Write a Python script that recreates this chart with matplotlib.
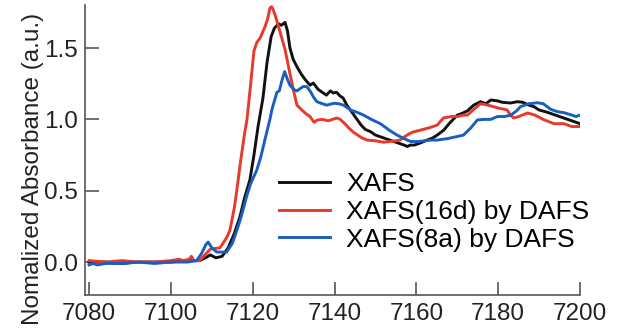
import matplotlib
matplotlib.use("Agg")
import matplotlib.pyplot as plt
from matplotlib import font_manager

# energies (eV) and normalized absorbance
e_xafs = [7080, 7084, 7088, 7092, 7096, 7100, 7104, 7107, 7108.5, 7109.6, 7111, 7112.5,
          7114, 7115.5, 7116.9, 7118, 7119.3, 7120.3, 7121.3, 7122.5, 7123.5, 7124.5,
          7125.3, 7126.3, 7127.0, 7127.9, 7128.5, 7129.1, 7129.9, 7130.8, 7131.8, 7132.8,
          7134.0, 7134.8, 7136.0, 7137.0, 7138.0, 7139.0, 7139.7, 7140.5, 7141.3, 7142.1,
          7143.0, 7144.0, 7145.5, 7146.5, 7147.5, 7148.8, 7150.0, 7151.0, 7152.0, 7153.0,
          7154.0, 7155.0, 7156.0, 7157.0, 7157.8, 7158.5, 7159.5, 7161.0, 7162.6, 7164.0,
          7165.1, 7166.7, 7168.0, 7169.0, 7170.0, 7171.0, 7172.5, 7174.0, 7175.7, 7177.0,
          7178.2, 7179.8, 7181.0, 7183.0, 7184.7, 7186.0, 7187.5, 7188.7, 7190.0, 7192.0,
          7194.0, 7196.0, 7198.0, 7200.0]
a_xafs = [0.00, 0.00, -0.01, 0.00, 0.00, 0.00, 0.01, 0.01, 0.03, 0.05, 0.03, 0.04,
          0.10, 0.20, 0.32, 0.45, 0.575, 0.75, 0.95, 1.15, 1.40, 1.58,
          1.64, 1.67, 1.66, 1.68, 1.62, 1.50, 1.42, 1.37, 1.32, 1.28,
          1.24, 1.255, 1.21, 1.19, 1.17, 1.20, 1.185, 1.19, 1.165, 1.15,
          1.10, 1.06, 1.00, 0.96, 0.93, 0.914, 0.89, 0.88, 0.87, 0.86,
          0.85, 0.84, 0.83, 0.82, 0.81, 0.82, 0.82, 0.835, 0.855, 0.87,
          0.89, 0.925, 0.97, 1.00, 1.03, 1.04, 1.06, 1.10, 1.124, 1.11,
          1.136, 1.13, 1.12, 1.115, 1.124, 1.12, 1.10, 1.09, 1.066, 1.05,
          1.03, 1.01, 0.99, 0.97]

e_16d = [7080, 7084, 7088, 7092, 7096, 7100, 7102, 7103, 7104.5, 7105, 7105.6, 7107,
         7108, 7109.6, 7112, 7113.6, 7114.4, 7115.5, 7116.1, 7117.0, 7118.0, 7118.6,
         7119.5, 7120.3, 7121.0, 7121.8, 7123.0, 7123.6, 7124.2, 7124.6, 7125.0, 7125.6,
         7126.3, 7127.1, 7127.9, 7129.1, 7130.0, 7130.8, 7132.0, 7133.0, 7134.0, 7135.0,
         7135.8, 7137.0, 7138.5, 7139.5, 7140.5, 7141.4, 7142.5, 7143.5, 7144.6, 7146.7,
         7148.0, 7150.0, 7152.0, 7153.6, 7155.0, 7156.0, 7157.7, 7159.0, 7161.0, 7163.0,
         7165.1, 7166.6, 7168.5, 7170.0, 7171.5, 7172.5, 7174.0, 7175.7, 7177.5, 7180.0,
         7182.2, 7183.0, 7183.8, 7185.0, 7187.2, 7189.0, 7191.0, 7193.6, 7196.0, 7198.0,
         7200.0]
a_16d = [0.01, 0.00, 0.01, 0.00, 0.00, 0.01, 0.02, 0.01, 0.02, 0.04, 0.01, 0.01,
         0.04, 0.09, 0.10, 0.17, 0.22, 0.38, 0.50, 0.70, 0.90, 1.00,
         1.25, 1.48, 1.54, 1.57, 1.65, 1.70, 1.78, 1.79, 1.77, 1.72,
         1.65, 1.57, 1.49, 1.32, 1.20, 1.10, 1.066, 1.04, 1.02, 0.98,
         0.996, 1.00, 0.99, 1.00, 1.01, 1.00, 0.97, 0.94, 0.91, 0.87,
         0.855, 0.85, 0.84, 0.845, 0.85, 0.855, 0.89, 0.91, 0.925, 0.94,
         0.96, 1.01, 1.02, 1.02, 1.03, 1.03, 1.07, 1.11, 1.10, 1.08,
         1.066, 1.03, 1.01, 1.02, 1.045, 1.03, 1.00, 0.97, 0.97, 0.95,
         0.95]

e_8a = [7080, 7081, 7082, 7084, 7088, 7092, 7096, 7100, 7104, 7106.3, 7107.5, 7108.5,
        7109.1, 7110.0, 7111.2, 7113.6, 7115.0, 7116.1, 7117.3, 7118.5, 7119.5, 7121.0,
        7122.0, 7123.0, 7124.2, 7124.7, 7125.9, 7126.5, 7127.2, 7127.8, 7128.5, 7129.1,
        7130.0, 7130.8, 7132.3, 7133.2, 7134.0, 7135.0, 7135.7, 7137.0, 7138.1, 7139.8,
        7141.0, 7142.2, 7143.9, 7145.5, 7147.1, 7149.0, 7151.2, 7153.6, 7155.3, 7157.0,
        7158.6, 7160.5, 7163.5, 7165.1, 7167.5, 7170.0, 7171.5, 7173.3, 7174.9, 7176.5,
        7178.2, 7179.8, 7181.5, 7183.1, 7184.5, 7185.5, 7187.5, 7189.6, 7191.0, 7192.9,
        7194.5, 7196.1, 7198.0, 7199.0, 7200.0]
a_8a = [-0.02, -0.01, -0.02, -0.01, -0.01, 0.00, -0.01, 0.00, 0.00, 0.01, 0.06, 0.12,
        0.14, 0.10, 0.07, 0.07, 0.13, 0.22, 0.33, 0.46, 0.55, 0.645,
        0.74, 0.86, 1.00, 1.07, 1.19, 1.20, 1.28, 1.335, 1.28, 1.24,
        1.21, 1.20, 1.23, 1.23, 1.20, 1.15, 1.124, 1.11, 1.10, 1.113,
        1.11, 1.10, 1.066, 1.05, 1.03, 1.00, 0.97, 0.92, 0.89, 0.865,
        0.845, 0.845, 0.855, 0.855, 0.865, 0.88, 0.89, 0.94, 0.996, 1.00,
        1.00, 1.02, 1.02, 1.03, 1.06, 1.09, 1.11, 1.117, 1.11, 1.07,
        1.054, 1.047, 1.03, 1.02, 1.03]

labels = ["XAFS", "XAFS(16d) by DAFS", "XAFS(8a) by DAFS"]
colors = ["#111111", "#e8392a", "#1a5ec0"]
x_ticks = [7080, 7100, 7120, 7140, 7160, 7180, 7200]
y_ticks = [0.0, 0.5, 1.0, 1.5]

names = {f.name for f in font_manager.fontManager.ttflist}
narrow = "Liberation Sans Narrow" if "Liberation Sans Narrow" in names else "Liberation Sans"
plt.rcParams["font.family"] = ["Liberation Sans", "DejaVu Sans"]

fig = plt.figure(figsize=(6.17, 3.31), dpi=100)
ax = fig.add_axes([85 / 617, 36 / 331, 495 / 617, 290 / 331])

for e, a, lab, c in zip([e_xafs, e_16d, e_8a], [a_xafs, a_16d, a_8a], labels, colors):
    ax.plot(e, a, color=c, lw=2.1, label=lab)

ax.set_xlim(7079, 7200)
ax.set_ylim(-0.231, 1.802)
ax.set_xticks(x_ticks)
ax.set_yticks(y_ticks)
ax.set_yticklabels([f"{v:.1f}" for v in y_ticks])

for s in ["top", "right"]:
    ax.spines[s].set_visible(False)
for s in ["left", "bottom"]:
    ax.spines[s].set_color("#555555")
    ax.spines[s].set_linewidth(1.2)

ax.tick_params(axis="x", direction="in", length=9.5, width=1.2, color="#555555", pad=5.5)
ax.tick_params(axis="y", direction="in", length=10, width=1.2, color="#555555", pad=5)
for lbl in ax.get_xticklabels() + ax.get_yticklabels():
    lbl.set_fontfamily([narrow, "DejaVu Sans"])
    lbl.set_fontsize(17.5)
    lbl.set_color("#222222")

ax.set_ylabel("Nomalized Absorbance (a.u.)", fontsize=17.5, color="#222222")
ax.yaxis.set_label_coords(-0.083, 0.434)

ax.legend(loc="center left", bbox_to_anchor=(0.366, 0.287), frameon=False, fontsize=19,
          handlelength=1.9, handletextpad=0.64, labelspacing=0.15, borderpad=0)

fig.savefig("out.png", dpi=100)
